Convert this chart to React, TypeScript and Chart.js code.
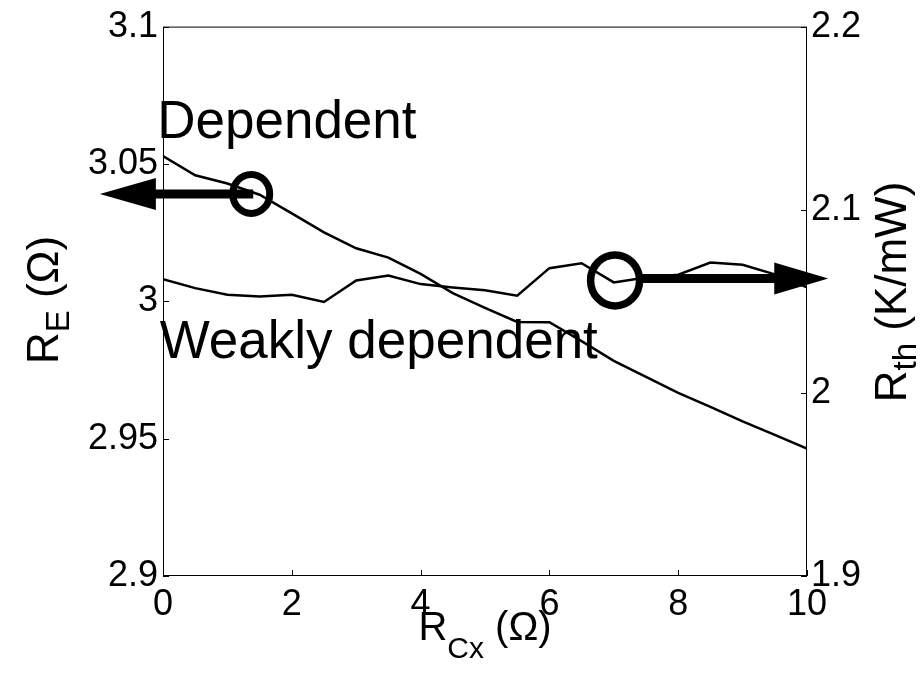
import React, { useEffect, useRef } from 'react';
import { Chart, registerables } from 'chart.js';

Chart.register(...registerables);

// ---- data ----
const rcxValues = [0, 0.5, 1, 1.5, 2, 2.5, 3, 3.5, 4, 4.5, 5, 5.5, 6, 6.5, 7, 7.5, 8, 8.5, 9, 9.5, 10];
const dependentRE = [3.0529, 3.0459, 3.0429, 3.0388, 3.032, 3.0251, 3.0193, 3.0159, 3.01, 3.003, 2.9976, 2.9925, 2.9924, 2.9855, 2.9783, 2.9725, 2.9667, 2.9616, 2.9563, 2.9514, 2.9464];
const weaklyRth = [2.0621, 2.0572, 2.0536, 2.0526, 2.0536, 2.0496, 2.0614, 2.0641, 2.0594, 2.0576, 2.056, 2.0531, 2.0681, 2.0708, 2.0603, 2.063, 2.0645, 2.0712, 2.0699, 2.0647, 2.0576];

const xTicks = [0, 2, 4, 6, 8, 10];
const leftTicks = [2.9, 2.95, 3, 3.05, 3.1];
const rightTicks = [1.9, 2, 2.1, 2.2];

// annotation anchors (data units)
const leftMarker = { x: 1.37, y: 3.0391, arrowTipX: -0.98 };
const rightMarker = { x: 7.02, y: 2.0614, arrowTipX: 10.33 };
const textDependent = { text: 'Dependent', x: -0.09, y: 3.0595 };
const textWeakly = { text: 'Weakly dependent', x: -0.05, y: 2.9793 };

const FONT = "'Liberation Sans', Arial, Helvetica, sans-serif";

type Seg = { t: string; sub?: boolean };

function drawRich(ctx: CanvasRenderingContext2D, segs: Seg[], cx: number, cy: number, angle: number, size: number, shift: number) {
  const subSize = Math.round(size * 0.74);
  let total = 0;
  const widths: number[] = [];
  for (const s of segs) {
    ctx.font = `${s.sub ? subSize : size}px ${FONT}`;
    const w = ctx.measureText(s.t).width;
    widths.push(w);
    total += w;
  }
  ctx.save();
  ctx.translate(cx, cy);
  ctx.rotate(angle);
  ctx.fillStyle = '#000';
  ctx.textBaseline = 'alphabetic';
  ctx.textAlign = 'left';
  let x = -total / 2;
  segs.forEach((s, i) => {
    ctx.font = `${s.sub ? subSize : size}px ${FONT}`;
    ctx.fillText(s.t, x, s.sub ? shift : 0);
    x += widths[i];
  });
  ctx.restore();
}

const overlayPlugin = {
  id: 'overlay',
  afterDraw(chart: any) {
    const { ctx, chartArea } = chart;
    const { left, right, top, bottom } = chartArea;
    const sx = chart.scales.x;
    const yl = chart.scales.yL;
    const yr = chart.scales.yR;
    ctx.save();
    // box
    ctx.strokeStyle = '#000';
    ctx.lineWidth = 1;
    ctx.strokeRect(left + 0.5, top + 0.5, right - left - 1, bottom - top - 1);
    // inward ticks
    const tl = 6;
    ctx.beginPath();
    xTicks.forEach((v) => {
      const px = Math.round(sx.getPixelForValue(v)) + 0.5;
      ctx.moveTo(px, bottom);
      ctx.lineTo(px, bottom - tl);
    });
    leftTicks.forEach((v) => {
      const py = Math.round(yl.getPixelForValue(v)) + 0.5;
      ctx.moveTo(left, py);
      ctx.lineTo(left + tl, py);
    });
    rightTicks.forEach((v) => {
      const py = Math.round(yr.getPixelForValue(v)) + 0.5;
      ctx.moveTo(right, py);
      ctx.lineTo(right - tl, py);
    });
    ctx.stroke();

    // left marker: circle + arrow to the left
    const lcx = sx.getPixelForValue(leftMarker.x);
    const lcy = yl.getPixelForValue(leftMarker.y);
    const ltip = sx.getPixelForValue(leftMarker.arrowTipX);
    ctx.lineWidth = 7;
    ctx.beginPath();
    ctx.ellipse(lcx, lcy, 18.5, 19.5, 0, 0, Math.PI * 2);
    ctx.stroke();
    ctx.lineWidth = 9;
    ctx.beginPath();
    ctx.moveTo(lcx + 2, lcy);
    ctx.lineTo(ltip + 50, lcy);
    ctx.stroke();
    ctx.fillStyle = '#000';
    ctx.beginPath();
    ctx.moveTo(ltip, lcy);
    ctx.lineTo(ltip + 56, lcy - 16);
    ctx.lineTo(ltip + 56, lcy + 16);
    ctx.closePath();
    ctx.fill();

    // right marker
    const rcx = sx.getPixelForValue(rightMarker.x);
    const rcy = yr.getPixelForValue(rightMarker.y);
    const rtip = sx.getPixelForValue(rightMarker.arrowTipX);
    ctx.lineWidth = 7.5;
    ctx.beginPath();
    ctx.ellipse(rcx, rcy, 24.5, 25.5, 0, 0, Math.PI * 2);
    ctx.stroke();
    ctx.lineWidth = 9;
    ctx.beginPath();
    ctx.moveTo(rcx + 26, rcy - 2);
    ctx.lineTo(rtip - 50, rcy - 2);
    ctx.stroke();
    ctx.beginPath();
    ctx.moveTo(rtip, rcy - 2);
    ctx.lineTo(rtip - 54, rcy - 18);
    ctx.lineTo(rtip - 54, rcy + 14);
    ctx.closePath();
    ctx.fill();

    // texts
    ctx.font = `53px ${FONT}`;
    ctx.textAlign = 'left';
    ctx.textBaseline = 'alphabetic';
    ctx.fillText(textDependent.text, sx.getPixelForValue(textDependent.x), yl.getPixelForValue(textDependent.y));
    ctx.fillText(textWeakly.text, sx.getPixelForValue(textWeakly.x), yl.getPixelForValue(textWeakly.y));

    // axis titles
    drawRich(ctx, [{ t: 'R' }, { t: 'Cx', sub: true }, { t: ' (Ω)' }], 485, 640, 0, 40, 18);
    drawRich(ctx, [{ t: 'R' }, { t: 'E', sub: true }, { t: ' (Ω)' }], 58, 300, -Math.PI / 2, 44, 11);
    drawRich(ctx, [{ t: 'R' }, { t: 'th', sub: true }, { t: ' (K/mW)' }], 906, 292, -Math.PI / 2, 44, 10);
    ctx.restore();
  },
};

const fmt = (v: number) => String(Number(Number(v).toFixed(2)));

export default function App() {
  const ref = useRef<HTMLCanvasElement | null>(null);
  useEffect(() => {
    if (!ref.current) return;
    const tickFont = { family: FONT, size: 36 };
    const chart = new Chart(ref.current, {
      type: 'line',
      data: {
        datasets: [
          {
            label: 'R_E',
            data: rcxValues.map((x, i) => ({ x, y: dependentRE[i] })),
            yAxisID: 'yL',
            borderColor: '#000',
            borderWidth: 2.5,
            pointRadius: 0,
            tension: 0,
            fill: false,
          },
          {
            label: 'R_th',
            data: rcxValues.map((x, i) => ({ x, y: weaklyRth[i] })),
            yAxisID: 'yR',
            borderColor: '#000',
            borderWidth: 2.5,
            pointRadius: 0,
            tension: 0,
            fill: false,
          },
        ],
      },
      options: {
        responsive: false,
        animation: false,
        events: [],
        layout: { padding: { top: 24, left: 0, right: 0, bottom: 0 } },
        plugins: { legend: { display: false }, tooltip: { enabled: false } },
        scales: {
          x: {
            type: 'linear',
            min: 0,
            max: 10,
            afterBuildTicks: (s: any) => { s.ticks = xTicks.map((v) => ({ value: v })); },
            afterFit: (s: any) => { s.height = 97; },
            ticks: { font: tickFont, color: '#000', padding: 7, callback: (v: any) => fmt(v), maxRotation: 0, autoSkip: false },
            grid: { display: false, drawTicks: false },
            border: { display: false },
          },
          yL: {
            type: 'linear',
            position: 'left',
            min: 2.9,
            max: 3.1,
            afterBuildTicks: (s: any) => { s.ticks = leftTicks.map((v) => ({ value: v })); },
            afterFit: (s: any) => { s.width = 163; },
            ticks: { font: tickFont, color: '#000', padding: 5, callback: (v: any) => fmt(v), autoSkip: false },
            grid: { display: false, drawTicks: false },
            border: { display: false },
          },
          yR: {
            type: 'linear',
            position: 'right',
            min: 1.9,
            max: 2.2,
            afterBuildTicks: (s: any) => { s.ticks = rightTicks.map((v) => ({ value: v })); },
            afterFit: (s: any) => { s.width = 113; },
            ticks: { font: tickFont, color: '#000', padding: 4, callback: (v: any) => fmt(v), autoSkip: false },
            grid: { display: false, drawTicks: false },
            border: { display: false },
          },
        },
      },
      plugins: [overlayPlugin],
    } as any);
    return () => chart.destroy();
  }, []);
  return (
    <div style={{ position: 'fixed', left: 0, top: 0, width: 920, height: 673, background: '#fff' }}>
      <canvas ref={ref} width={920} height={673} style={{ display: 'block' }} />
    </div>
  );
}
